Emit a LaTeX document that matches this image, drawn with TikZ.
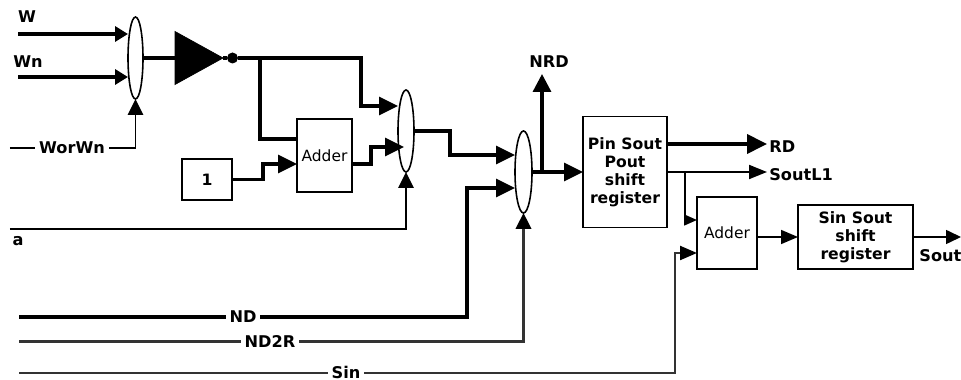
\documentclass[tikz,border=0pt]{standalone}
\usepackage{fontspec}
\setmainfont{DejaVu Sans}
\usetikzlibrary{arrows.meta, positioning, calc, shapes.geometric}

\begin{document}
\begin{tikzpicture}[
		node distance = 1cm,
		>=Triangle,
		bus/.style = {line width=1.9pt, -{Triangle[length=.38cm, width=.36cm]}},
		wire/.style = {line width=.9pt, -{Triangle[length=.32cm, width=.31cm]}},
		plain/.style = {line width=1.3pt, black!80, -{Triangle[length=.32cm, width=.31cm, black]}},
		mux/.style = {draw, ellipse, line width=.9pt, inner sep=0pt, outer sep=0pt, minimum height=1.64cm},
		block/.style = {draw, rectangle, line width=.9pt, inner sep=0pt, outer sep=0pt, align=center, font=\bfseries\fontsize{8.9}{10.2}\selectfont},
		adder/.style = {draw, rectangle, line width=.9pt, inner sep=0pt, outer sep=0pt, font=\fontsize{8.8}{10}\selectfont},
		sig/.style = {inner sep=0pt, font=\bfseries\fontsize{9.2}{10}\selectfont},
		onwire/.style = {sig, fill=white, inner xsep=.08cm, inner ysep=0pt}
		]

		\useasboundingbox (0,0) rectangle (19.22,-7.6);

		\coordinate (wIn) at (.36,-.68);
		\coordinate (wnIn) at (.36,-1.54);
		\coordinate (worIn) at (.2,-2.96);
		\coordinate (aIn) at (.2,-4.58);
		\coordinate (ndIn) at (.38,-6.34);
		\coordinate (ndrIn) at (.38,-6.83);
		\coordinate (sinIn) at (.38,-7.46);
		\coordinate (nrdOut) at (10.84,-1.48);
		\coordinate (rdOut) at (15.34,-2.88);
		\coordinate (slOut) at (15.34,-3.44);
		\coordinate (soutOut) at (19.22,-4.74);

		\node [mux, minimum width=.3cm] (muxw) at (2.71,-1.16) {};
		\node [draw, fill=black, isosceles triangle, isosceles triangle stretches, shape border rotate=0, inner sep=0pt, outer sep=0pt, minimum width=1.06cm, minimum height=.96cm, right=.64cm of muxw] (driver) {};
		\node [circle, fill=black, inner sep=0pt, outer sep=0pt, minimum size=.22cm, right=.08cm of driver] (dot) {};
		\node [adder, minimum width=1.1cm, minimum height=1.46cm] (addA) at (6.49,-3.11) {Adder};
		\node [block, minimum width=1cm, minimum height=.82cm] (one) at (4.14,-3.59) {1};
		\node [mux, minimum width=.32cm] (muxa) at (8.12,-2.62) {};
		\node [mux, minimum width=.34cm] (muxb) at (10.47,-3.44) {};
		\node [block, minimum width=1.68cm, minimum height=2.22cm, right=1.02cm of muxb] (pinreg) {Pin Sout\\Pout\\shift\\register};
		\node [adder, minimum width=1.2cm, minimum height=1.44cm] (addB) at (14.54,-4.66) {Adder};
		\node [block, minimum width=2.3cm, minimum height=1.28cm] (sinreg) at (17.11,-4.74) {Sin Sout\\shift\\register};

		% inputs of the first mux
		\draw [bus, -{Triangle[length=.26cm, width=.3cm]}] (wIn) -- (wIn -| muxw.west);
		\draw [bus, -{Triangle[length=.26cm, width=.3cm]}] (wnIn) -- (wnIn -| muxw.west);
		\draw [wire] (worIn) -| (muxw.south);
		\draw [line width=1.9pt] (muxw.east) -- (driver.west);
		\draw [line width=1.9pt] (driver.east) -- (dot);

		% adder stage
		\draw [bus] (dot.east) -- ++(2.46,0) |- ($(muxa.west)+(0,.5)$);
		\draw [line width=1.9pt] (5.2,-1.16) |- ($(addA.west)+(0,.33)$);
		\draw [bus] (one.east) -- ++(.62,0) |- ($(addA.west)+(0,-.17)$);
		\draw [bus] ($(addA.east)+(0,-.17)$) -- ++(.38,0) |- ($(muxa.west)+(.12,-.32)$);
		\draw [wire] (aIn) -| (muxa.south);

		% second mux
		\draw [bus] (muxa.east) -- ++(.72,0) |- ($(muxb.west)+(0,.34)$);
		\draw [bus] (ndIn) -- ++(8.96,0) |- ($(muxb.west)+(0,-.32)$);
		\draw [plain] (ndrIn) -| (muxb.south);
		\draw [bus] (muxb.east) -- (pinreg.west);
		\draw [line width=1.9pt, -{Triangle[length=.36cm, width=.36cm]}] (nrdOut |- muxb.east) -- (nrdOut);

		% outputs
		\draw [line width=2.2pt, -{Triangle[length=.4cm, width=.38cm]}] (rdOut -| pinreg.east) -- (rdOut);
		\draw [line width=1.1pt, -{Triangle[length=.36cm, width=.28cm]}] (slOut -| pinreg.east) -- (slOut);
		\draw [wire, -{Triangle[length=.26cm, width=.22cm]}] (13.7,-3.44) |- ($(addB.west)+(0,.26)$);
		\draw [plain, -{Triangle[length=.34cm, width=.28cm, black]}] (sinIn) -- ++(13.12,0) |- ($(addB.west)+(0,-.4)$);
		\draw [wire, -{Triangle[length=.34cm, width=.28cm]}] (addB.east |- sinreg.west) -- (sinreg.west);
		\draw [wire, -{Triangle[length=.3cm, width=.28cm]}] (sinreg.east) -- (soutOut);

		% signal names
		\node [sig] (wname) at (.54,-.34) {W};
		\node [sig] (wnname) at (.56,-1.24) {Wn};
		\node [onwire] (worname) at (1.44,-2.96) {WorWn};
		\node [sig] (aname) at (.36,-4.82) {a};
		\node [onwire] (ndname) at (4.86,-6.34) {ND};
		\node [onwire] (ndrname) at (5.4,-6.83) {ND2R};
		\node [onwire] (sinname) at (6.92,-7.44) {Sin};
		\node [sig] (nrdname) at (10.98,-1.24) {NRD};
		\node [sig, anchor=west] (rdname) at (15.38,-2.94) {RD};
		\node [sig, anchor=west] (slname) at (15.38,-3.5) {SoutL1};
		\node [sig, anchor=west] (soutname) at (18.38,-5.12) {Sout};

	\end{tikzpicture}
\end{document}
